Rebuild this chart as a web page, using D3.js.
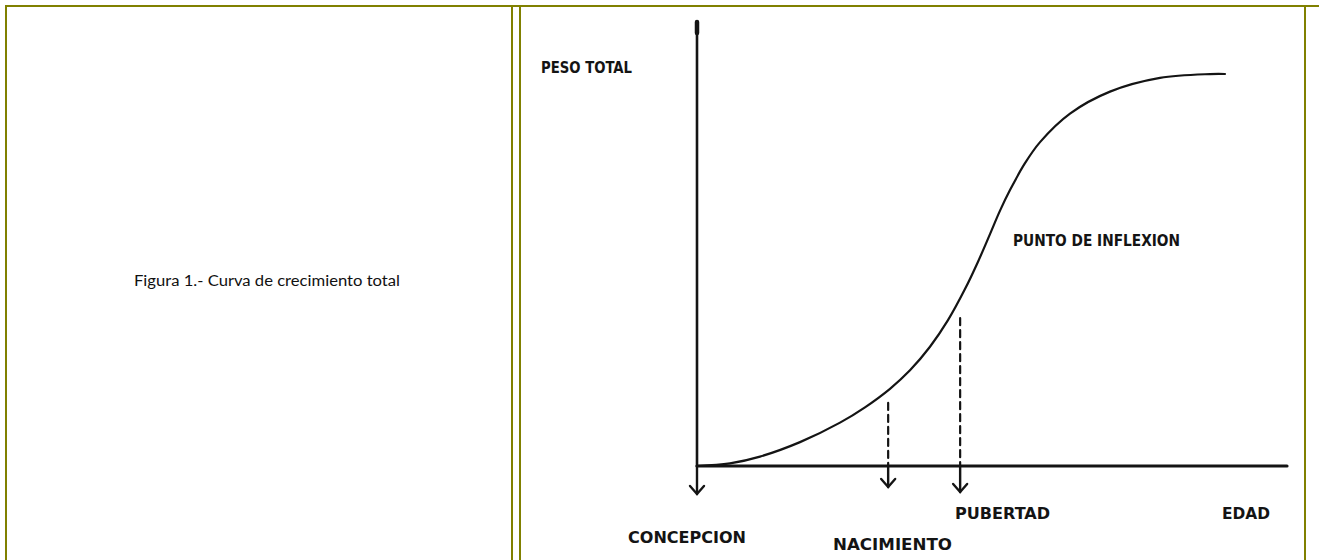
<!DOCTYPE html>
<html>
<head>
<meta charset="utf-8">
<script src="https://cdn.jsdelivr.net/npm/d3@7.9.0/dist/d3.min.js"></script>
<style>
  html, body { margin: 0; padding: 0; background: #fff; }
  svg { display: block; }
</style>
</head>
<body>
<svg id="chart" width="1319" height="560"></svg>
<script>
// curve: age (0-100) vs total weight (0-100)
const ages    = [0, 5.59, 10.68, 17.46, 24.24, 28.47, 32.71, 36.1, 39.49, 42.54, 45.42, 47.63, 49.66, 51.36, 53.05, 55.59, 58.14, 63.22, 70, 78.47, 86.95, 89.49];
const weights = [0, 0.59, 2.12, 5.38, 9.77, 13.22, 17.39, 21.55, 26.85, 32.84, 39.84, 46.01, 52.23, 57.52, 62.14, 68.2, 72.95, 79.37, 84.32, 87.41, 88.27, 88.29];

// events along the age axis
const events    = ['CONCEPCION', 'NACIMIENTO', 'PUBERTAD'];
const eventAges = [0, 32.4, 44.6];
const dashTops  = [null, 14.2, 33.3];

const caption = 'Figura 1.- Curva de crecimiento total';

const svg = d3.select('#chart');
const olive = '#808000';
const ink = '#141414';

// table frame
const frame = svg.append('g').attr('stroke', olive).attr('stroke-width', 2);
frame.append('line').attr('x1', 5).attr('x2', 1319).attr('y1', 6).attr('y2', 6);
[6, 512, 520, 1305].forEach(x => {
    frame.append('line').attr('x1', x).attr('x2', x).attr('y1', 5).attr('y2', 560);
});

// caption in left cell
svg.append('text')
    .attr('x', 134).attr('y', 286)
    .attr('font-family', 'Lato, "Open Sans", sans-serif')
    .attr('font-size', 15.5)
    .attr('textLength', 266)
    .attr('lengthAdjust', 'spacingAndGlyphs')
    .attr('fill', '#111')
    .text(caption);

// scales
const x = d3.scaleLinear().domain([0, 100]).range([697, 1287]);
const y = d3.scaleLinear().domain([0, 100]).range([466, 22]);

const g = svg.append('g').attr('stroke', ink).attr('fill', 'none').attr('stroke-linecap', 'round');

// axes
g.append('line').attr('x1', x(0)).attr('x2', x(0)).attr('y1', y(100)).attr('y2', y(0)).attr('stroke-width', 2.6);
g.append('line').attr('x1', x(0)).attr('x2', x(0)).attr('y1', y(100)).attr('y2', y(97.5)).attr('stroke-width', 4.5);
g.append('line').attr('x1', x(0)).attr('x2', x(100)).attr('y1', y(0)).attr('y2', y(0)).attr('stroke-width', 3.2);

// growth curve
const pts = ages.map((a, i) => [a, weights[i]]);
g.append('path')
    .datum(pts)
    .attr('stroke-width', 2.2)
    .attr('d', d3.line().x(d => x(d[0])).y(d => y(d[1])).curve(d3.curveCatmullRom.alpha(0.5)));

// dashed guides and arrows
const arrowLen = [28, 21, 26];
eventAges.forEach((a, i) => {
    const cx = x(a);
    if (dashTops[i] !== null) {
        g.append('line')
            .attr('x1', cx).attr('x2', cx)
            .attr('y1', y(dashTops[i])).attr('y2', y(0))
            .attr('stroke-width', 2.2)
            .attr('stroke-dasharray', '7,5');
    }
    const tip = y(0) + arrowLen[i];
    g.append('line').attr('x1', cx).attr('x2', cx).attr('y1', y(0)).attr('y2', tip).attr('stroke-width', 2.4);
    g.append('path')
        .attr('stroke-width', 2.4)
        .attr('d', `M${cx - 7},${tip - 8} L${cx},${tip} L${cx + 7},${tip - 8}`);
});

// labels
const labels = [
    { t: 'PESO TOTAL', x: 541, y: 73, w: 91 },
    { t: 'PUNTO DE INFLEXION', x: 1013, y: 246, w: 167 },
    { t: events[2], x: 955, y: 519, w: 95 },
    { t: 'EDAD', x: 1222, y: 519, w: 48 },
    { t: events[0], x: 628, y: 543, w: 118 },
    { t: events[1], x: 833, y: 550, w: 119 }
];
svg.append('g').selectAll('text')
    .data(labels)
    .join('text')
    .attr('x', d => d.x).attr('y', d => d.y)
    .attr('textLength', d => d.w)
    .attr('lengthAdjust', 'spacingAndGlyphs')
    .attr('font-family', '"DejaVu Sans Condensed", "DejaVu Sans", sans-serif')
    .attr('font-weight', 'bold')
    .attr('font-size', 15)
    .attr('fill', ink)
    .text(d => d.t);
</script>
</body>
</html>
